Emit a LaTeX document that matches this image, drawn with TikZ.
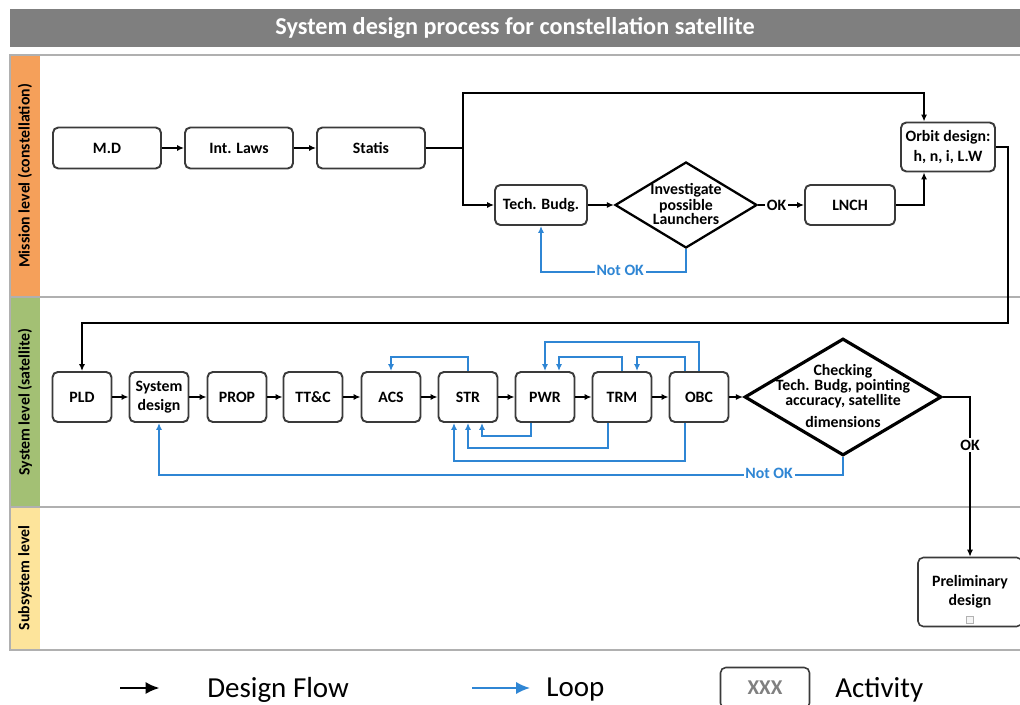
\documentclass[tikz,border=0pt]{standalone}
\usepackage{fontspec}
\setmainfont{Carlito}
\usepackage{tikz}
\usetikzlibrary{arrows.meta,positioning,shapes.geometric,calc}

\definecolor{titlegray}{HTML}{7F7F7F}
\definecolor{laneorange}{HTML}{F5A05A}
\definecolor{lanegreen}{HTML}{A3C074}
\definecolor{laneyellow}{HTML}{FDE49B}
\definecolor{lanegray}{HTML}{B0B0B0}
\definecolor{loopblue}{HTML}{2F86D4}
\definecolor{boxline}{HTML}{3A3A3A}

\begin{document}
\begin{tikzpicture}[x=0.02cm, y=-0.02cm,
  act/.style={draw=boxline, line width=1.1pt, rounded corners=3pt, align=center,
              inner sep=1pt, font=\bfseries\fontsize{9}{11}\selectfont},
  mbox/.style={act, minimum width=2.16cm, minimum height=0.82cm},
  sbox/.style={act, minimum width=1.18cm, minimum height=1cm},
  decision/.style={draw=black, diamond, inner sep=0pt},
  dtext/.style={align=center, inner sep=0pt, font=\bfseries\fontsize{9}{8.5}\selectfont},
  flow/.style={-{Latex[length=4pt,width=3.5pt]}, line width=1pt},
  loop/.style={-{Latex[length=4pt,width=3.5pt]}, line width=1pt, draw=loopblue},
  tag/.style={fill=white, inner sep=1pt, font=\bfseries\fontsize{9}{10}\selectfont},
  lanelabel/.style={rotate=90, font=\bfseries\fontsize{9}{10}\selectfont},
  legendtext/.style={anchor=west, inner sep=0pt, font=\fontsize{16.5}{18}\selectfont},
]
\useasboundingbox (0,0) rectangle (1020,705);

% title and swim lanes
\node[fill=titlegray, text=white, minimum width=20.2cm, minimum height=0.76cm,
      font=\bfseries\fontsize{13.8}{15}\selectfont] (title) at (515,28)
  {System design process for constellation satellite};
\fill[laneorange] (10,55) rectangle (40,297);
\fill[lanegreen] (10,297) rectangle (40,507);
\fill[laneyellow] (10,507) rectangle (40,650);
\draw[lanegray, line width=0.8pt] (10,55) rectangle (1024,650)
  (10,297) -- (1024,297) (10,507) -- (1024,507);
\node[lanelabel] (mission) at (25,176) {Mission level (constellation)};
\node[lanelabel] (system) at (25,402) {System level (satellite)};
\node[lanelabel] (subsystem) at (25,578) {Subsystem level};

% mission level
\node[mbox] (md) at (107,148) {M.D};
\node[mbox] (laws) at (239,148) {Int. Laws};
\node[mbox] (statis) at (371,148) {Statis};
\node[act, minimum width=1.84cm, minimum height=0.8cm] (tech) at (541,205) {Tech. Budg.};
\node[decision, line width=1.3pt, minimum width=2.84cm, minimum height=1.72cm] (inv) at (686,205) {};
\node[dtext, font=\bfseries\fontsize{9}{7.8}\selectfont] (invtext) at (686,204) {Investigate\\possible\\Launchers};
\node[act, minimum width=1.8cm, minimum height=0.8cm] (lnch) at (850,205) {LNCH};
\node[act, minimum width=1.88cm, minimum height=0.98cm] (orbit) at (948,147)
  {Orbit design:\\h, n, i, L.W};

\coordinate (split) at (463,148);
\coordinate (topline) at (463,93);
\coordinate (orbitin) at ($(orbit.north west)!0.25!(orbit.north east)$);
\coordinate (orbitlo) at ($(orbit.south west)!0.25!(orbit.south east)$);
\coordinate (rightrail) at (1008,323);

\draw[flow] (md) -- (laws);
\draw[flow] (laws) -- (statis);
\draw[line width=1pt] (statis.east) -- (split);
\draw[flow] (split) -- (topline) -| (orbitin);
\draw[flow] (split) |- (tech.west);
\draw[flow] (tech) -- (inv);
\draw[flow] (inv.east) -- node[tag, pos=0.4] {OK} (lnch.west);
\draw[flow] (lnch.east) -| (orbitlo);
\draw[loop] (inv.south) -- ++(0,23) -| node[tag, text=loopblue, anchor=base, pos=0.227, yshift=-2pt] {Not OK} (tech.south);

% system level
\node[sbox] (pld) at (82,397) {PLD};
\node[sbox] (sysd) at (159,397) {System\\design};
\node[sbox] (prop) at (237,397) {PROP};
\node[sbox] (ttc) at (313,397) {TT\&C};
\node[sbox] (acs) at (391,397) {ACS};
\node[sbox] (str) at (468,397) {STR};
\node[sbox] (pwr) at (545,397) {PWR};
\node[sbox] (trm) at (622,397) {TRM};
\node[sbox] (obc) at (699,397) {OBC};
\node[decision, line width=1.8pt, minimum width=3.94cm, minimum height=2.34cm] (check) at (843,397) {};
\node[dtext] (checktext) at (843,396)
  {Checking\\Tech. Budg, pointing\\accuracy, satellite\\[4pt]dimensions};

\draw[flow] (orbit.east) -| (rightrail) -| (pld.north);
\draw[flow] (pld) -- (sysd);
\draw[flow] (sysd) -- (prop);
\draw[flow] (prop) -- (ttc);
\draw[flow] (ttc) -- (acs);
\draw[flow] (acs) -- (str);
\draw[flow] (str) -- (pwr);
\draw[flow] (pwr) -- (trm);
\draw[flow] (trm) -- (obc);
\draw[flow] (obc) -- (check);

% loops above the boxes
\draw[loop] (str.north) -- ++(0,-14) -| (acs.north);
\draw[loop] (trm.north) -- ++(0,-14) -| ($(pwr.north)+(14,0)$);
\draw[loop] ($(obc.north)+(-14,0)$) -- ++(0,-14) -| ($(trm.north)+(15,0)$);
\draw[loop] (obc.north) -- ++(0,-29) -| (pwr.north);
% loops below the boxes
\draw[loop] ($(pwr.south)+(-14,0)$) -- ++(0,13) -| ($(str.south)+(14,0)$);
\draw[loop] ($(trm.south)+(-14,0)$) -- ++(0,25) -| (str.south);
\draw[loop] ($(obc.south)+(-14,0)$) -- ++(0,38) -| ($(str.south)+(-14,0)$);
\draw[loop] (check.south) -- ++(0,18) -| node[tag, text=loopblue, anchor=base, pos=0.054, yshift=-2pt] {Not OK} (sysd.south);

% subsystem level
\node[draw=boxline, line width=0.9pt, rounded corners=3pt, align=center,
      minimum width=2.08cm, minimum height=1.38cm,
      font=\bfseries\fontsize{9}{11}\selectfont] (prelim) at (970,592) {Preliminary\\design};
\node[draw=gray!60, fill=gray!8, minimum size=4pt, inner sep=0pt] (expand) at (970,620) {};
\draw[flow] (check.east) -| node[tag, pos=0.65] {OK} (prelim.north);

% legend
\node[legendtext] (flowtxt) at (207,690) {Design Flow};
\node[legendtext] (looptxt) at (546,690) {Loop};
\node[draw=boxline, line width=0.9pt, rounded corners=3pt, minimum width=1.78cm,
      minimum height=0.82cm, text=gray, font=\bfseries\fontsize{12}{13}\selectfont] (xxx) at (765,688) {XXX};
\node[legendtext] (acttxt) at (835,690) {Activity};
\coordinate (flowstart) at (120,688);
\coordinate (loopstart) at (472,688);
\draw[-{Latex[length=8pt,width=7pt]}, line width=1.4pt, shorten >=27pt] (flowstart) -- (flowstart -| flowtxt.west);
\draw[-{Latex[length=8pt,width=7pt]}, line width=1.4pt, loopblue, shorten >=9pt] (loopstart) -- (loopstart -| looptxt.west);
\end{tikzpicture}
\end{document}
